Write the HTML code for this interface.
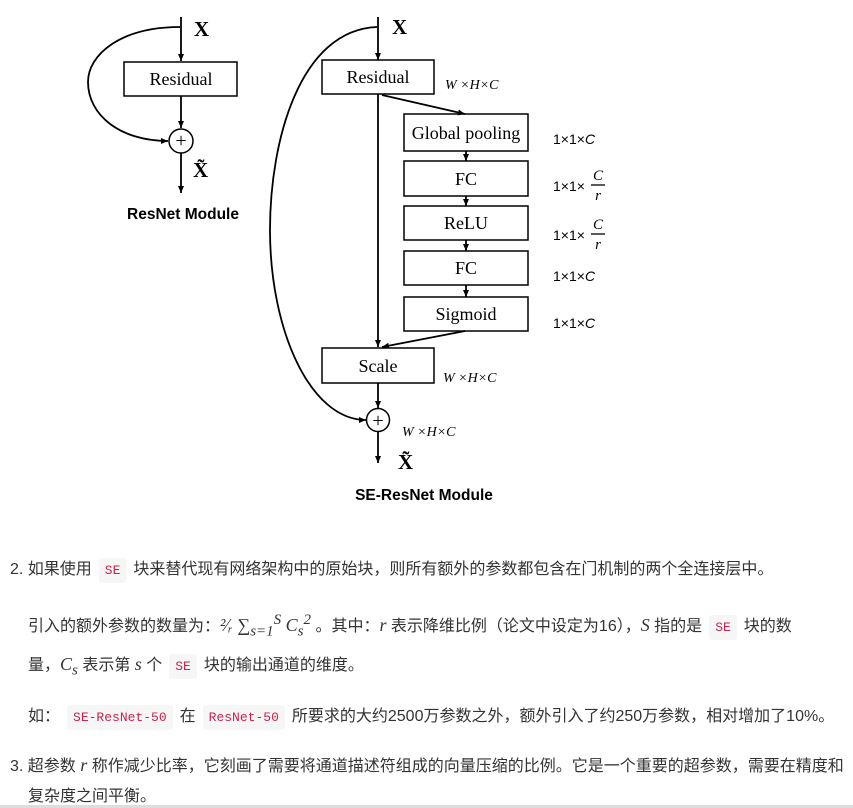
<!DOCTYPE html>
<html><head><meta charset="utf-8"><style>
body{margin:0;width:853px;height:808px;background:#fff;overflow:hidden;position:relative;font-family:"Liberation Sans","Noto Sans CJK SC",sans-serif;color:#333}
svg{position:absolute;left:0;top:0}
.t{position:absolute;font-size:16px;white-space:nowrap;line-height:20px}
code{font-family:"Liberation Mono",monospace;font-size:13px;color:#c7254e;background:#f6f6f6;padding:5px 6px;border-radius:3px;margin:0 7px}
i{font-family:"Liberation Serif",serif;font-size:18px}
</style></head><body>
<svg width="853" height="520" font-family="Liberation Serif, serif">
<defs><marker id="a" markerWidth="8" markerHeight="8" refX="7" refY="4" orient="auto" markerUnits="userSpaceOnUse"><path d="M0,1 L7,4 L0,7z" fill="#000"/></marker></defs>
<g stroke="#000" stroke-width="1.8" fill="none">
<line x1="181" y1="17" x2="181" y2="61" marker-end="url(#a)"/>
<rect x="124" y="62" width="113" height="34" stroke-width="1.5"/>
<line x1="181" y1="96" x2="181" y2="128" marker-end="url(#a)"/>
<circle cx="181" cy="141" r="12" stroke-width="1.5"/>
<line x1="181" y1="153" x2="181" y2="193" marker-end="url(#a)"/>
<path d="M180,27 C120,27 88,55 88,82 C88,115 120,141 168,141" marker-end="url(#a)"/>
<line x1="378" y1="17" x2="378" y2="60" marker-end="url(#a)"/>
<rect x="322" y="60" width="112" height="34" stroke-width="1.5"/>
<line x1="378" y1="94" x2="378" y2="347" marker-end="url(#a)"/>
<line x1="382" y1="95" x2="465" y2="114" marker-end="url(#a)"/>
<rect x="404" y="114" width="124" height="37" stroke-width="1.5"/>
<line x1="466" y1="151" x2="466" y2="161" marker-end="url(#a)"/>
<rect x="404" y="161" width="124" height="35" stroke-width="1.5"/>
<line x1="466" y1="196" x2="466" y2="206" marker-end="url(#a)"/>
<rect x="404" y="206" width="124" height="34" stroke-width="1.5"/>
<line x1="466" y1="240" x2="466" y2="251" marker-end="url(#a)"/>
<rect x="404" y="251" width="124" height="34" stroke-width="1.5"/>
<line x1="466" y1="285" x2="466" y2="297" marker-end="url(#a)"/>
<rect x="404" y="297" width="124" height="34" stroke-width="1.5"/>
<line x1="465" y1="331" x2="382" y2="347" marker-end="url(#a)"/>
<rect x="322" y="348" width="112" height="35" stroke-width="1.5"/>
<line x1="378" y1="383" x2="378" y2="408" marker-end="url(#a)"/>
<circle cx="378" cy="420" r="11.5" stroke-width="1.5"/>
<line x1="378" y1="432" x2="378" y2="463" marker-end="url(#a)"/>
<path d="M377,27 C300,30 270,140 270,230 C270,330 310,420 366,420" marker-end="url(#a)"/>
</g>
<g font-size="18" text-anchor="middle" fill="#000">
<text x="181" y="85">Residual</text>
<text x="378" y="83">Residual</text>
<text x="466" y="139">Global pooling</text>
<text x="466" y="185">FC</text>
<text x="466" y="229">ReLU</text>
<text x="466" y="274">FC</text>
<text x="466" y="320">Sigmoid</text>
<text x="378" y="372">Scale</text>
<text x="181" y="147" font-size="20">+</text>
<text x="378" y="427" font-size="20">+</text>
</g>
<g font-size="21" font-weight="bold" fill="#000">
<text x="194" y="36">X</text><text x="193" y="177">X̃</text>
<text x="392" y="34">X</text><text x="398" y="469">X̃</text>
</g>
<g font-family="Liberation Sans, sans-serif" font-size="15.5" font-weight="bold" fill="#000" text-anchor="middle">
<text x="183" y="219">ResNet Module</text>
<text x="424" y="500">SE-ResNet Module</text>
</g>
<g font-size="14" fill="#000" font-style="italic">
<text x="445" y="89">W ×H×C</text>
<text x="443" y="382">W ×H×C</text>
<text x="402" y="436">W ×H×C</text>
</g>
<g font-size="14" fill="#000" font-family="Liberation Sans, sans-serif">
<text x="553" y="144">1×1×<tspan font-style="italic">C</tspan></text>
<text x="553" y="191">1×1×</text>
<text x="553" y="240">1×1×</text>
<text x="553" y="281">1×1×<tspan font-style="italic">C</tspan></text>
<text x="553" y="328">1×1×<tspan font-style="italic">C</tspan></text>
<g font-style="italic" text-anchor="middle" font-family="Liberation Serif, serif" font-size="15">
<text x="598" y="180">C</text><line x1="591" y1="185" x2="605" y2="185" stroke="#000" stroke-width="1.3"/><text x="598" y="200">r</text>
<text x="598" y="229">C</text><line x1="591" y1="234" x2="605" y2="234" stroke="#000" stroke-width="1.3"/><text x="598" y="249">r</text>
</g>
</g>
</svg>
<div class="t" style="left:10px;top:560px">2. 如果使用<code>SE</code>块来替代现有网络架构中的原始块，则所有额外的参数都包含在门机制的两个全连接层中。</div>
<div class="t" style="left:28px;top:610px">引入的额外参数的数量为：<i>²⁄ᵣ ∑<sub>s=1</sub><sup>S</sup> C<sub>s</sub><sup>2</sup></i> 。其中：<i>r</i> 表示降维比例（论文中设定为16），<i>S</i> 指的是<code>SE</code>块的数</div>
<div class="t" style="left:28px;top:654px">量，<i>C<sub>s</sub></i> 表示第 <i>s</i> 个<code>SE</code>块的输出通道的维度。</div>
<div class="t" style="left:28px;top:707px">如：<code>SE-ResNet-50</code>在<code>ResNet-50</code>所要求的大约2500万参数之外，额外引入了约250万参数，相对增加了10%。</div>
<div class="t" style="left:10px;top:755px">3. 超参数 <i>r</i> 称作减少比率，它刻画了需要将通道描述符组成的向量压缩的比例。它是一个重要的超参数，需要在精度和</div>
<div class="t" style="left:28px;top:787px">复杂度之间平衡。</div>
<div style="position:absolute;left:0;top:805px;width:853px;height:3px;background:#ddd"></div>
</body></html>
